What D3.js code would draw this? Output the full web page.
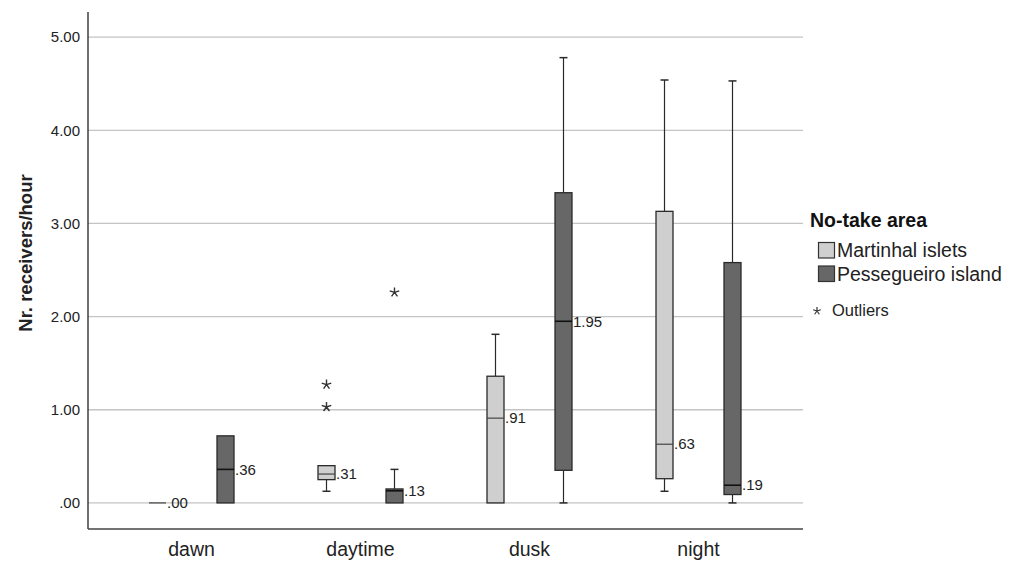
<!DOCTYPE html>
<html>
<head>
<meta charset="utf-8">
<script src="https://cdn.jsdelivr.net/npm/d3@7"></script>
<style>
  body { margin: 0; background: #fff; }
  svg { font-family: "Liberation Sans", Arial, sans-serif; }
</style>
</head>
<body>
<div id="chart"></div>
<script>
const categories = ["dawn", "daytime", "dusk", "night"];
const groups = ["Martinhal islets", "Pessegueiro island"];
const groupColors = ["#cfcfcf", "#676767"];
const yTicks = [0, 1, 2, 3, 4, 5];

// whisker low, q1, median, q3, whisker high
const martinhalStats = [
  [0, 0, 0, 0, 0],
  [0.125, 0.25, 0.31, 0.40, 0.40],
  [0, 0, 0.91, 1.36, 1.81],
  [0.125, 0.26, 0.63, 3.13, 4.54],
];
const pessegueiroStats = [
  [0, 0, 0.36, 0.72, 0.72],
  [0, 0, 0.13, 0.15, 0.36],
  [0, 0.35, 1.95, 3.33, 4.78],
  [0, 0.09, 0.19, 2.58, 4.53],
];
const outlierCats = ["daytime", "daytime", "daytime"];
const outlierGroups = [0, 0, 1];
const outlierValues = [1.27, 1.03, 2.26];

const width = 1019, height = 561;
const svg = d3.select("#chart").append("svg")
  .attr("width", width).attr("height", height);

const x = d3.scaleBand().domain(categories).range([107, 783]);
const xg = d3.scaleOrdinal().domain([0, 1]).range([-34, 34]);
const y = d3.scaleLinear().domain([-0.28, 5.27]).range([529, 12]);
const boxW = 17;

// gridlines
svg.append("g")
  .selectAll("line")
  .data(yTicks)
  .join("line")
  .attr("x1", 88).attr("x2", 803)
  .attr("y1", (d) => y(d)).attr("y2", (d) => y(d))
  .attr("stroke", "#c4c4c4").attr("stroke-width", 1.3);

// y axis
const yAxis = svg.append("g")
  .attr("transform", "translate(88,0)")
  .call(d3.axisLeft(y).tickValues(yTicks).tickSize(0).tickPadding(8)
    .tickFormat((d) => d3.format(".2f")(d).replace(/^0/, "")));
yAxis.select(".domain").remove();
yAxis.selectAll("text").attr("font-size", 15).attr("fill", "#222")
  .attr("font-family", "Liberation Sans, Arial, sans-serif");
svg.append("line").attr("x1", 88).attr("x2", 88).attr("y1", 12).attr("y2", 529)
  .attr("stroke", "#222").attr("stroke-width", 1.3);

// x axis
const xAxis = svg.append("g")
  .attr("transform", "translate(0,529)")
  .call(d3.axisBottom(x).tickSize(0).tickPadding(13));
xAxis.select(".domain").remove();
xAxis.selectAll("text").attr("font-size", 19.5).attr("fill", "#222")
  .attr("font-family", "Liberation Sans, Arial, sans-serif");
svg.append("line").attr("x1", 88).attr("x2", 803).attr("y1", 529).attr("y2", 529)
  .attr("stroke", "#444").attr("stroke-width", 1.3);

// axis title
svg.append("text")
  .attr("transform", "translate(32,253) rotate(-90)")
  .attr("text-anchor", "middle")
  .attr("font-size", 18.5).attr("font-weight", "bold").attr("fill", "#222")
  .text("Nr. receivers/hour");

// boxes
const boxes = [];
[martinhalStats, pessegueiroStats].forEach((stats, gi) => {
  stats.forEach((s, ci) => {
    boxes.push({ cat: categories[ci], g: gi, lo: s[0], q1: s[1], med: s[2], q3: s[3], hi: s[4] });
  });
});
const cx = (d) => x(d.cat) + x.bandwidth() / 2 + xg(d.g);
const fmt = (v) => d3.format(".2f")(v).replace(/^0/, "");

const bg = svg.append("g").selectAll("g").data(boxes).join("g");

bg.each(function (d) {
  const g = d3.select(this);
  const c = cx(d);
  const stroke = "#2a2a2a";
  if (d.hi > d.q3) {
    g.append("line").attr("x1", c).attr("x2", c).attr("y1", y(d.q3)).attr("y2", y(d.hi))
      .attr("stroke", stroke).attr("stroke-width", 1.2);
    g.append("line").attr("x1", c - 4).attr("x2", c + 4).attr("y1", y(d.hi)).attr("y2", y(d.hi))
      .attr("stroke", stroke).attr("stroke-width", 1.5);
  }
  if (d.lo < d.q1) {
    g.append("line").attr("x1", c).attr("x2", c).attr("y1", y(d.q1)).attr("y2", y(d.lo))
      .attr("stroke", stroke).attr("stroke-width", 1.2);
    g.append("line").attr("x1", c - 4).attr("x2", c + 4).attr("y1", y(d.lo)).attr("y2", y(d.lo))
      .attr("stroke", stroke).attr("stroke-width", 1.5);
  }
  if (d.q3 > d.q1) {
    g.append("rect")
      .attr("x", c - boxW / 2).attr("width", boxW)
      .attr("y", y(d.q3)).attr("height", y(d.q1) - y(d.q3))
      .attr("fill", groupColors[d.g]).attr("stroke", stroke).attr("stroke-width", 1.3);
  }
  g.append("line").attr("x1", c - boxW / 2).attr("x2", c + boxW / 2)
    .attr("y1", y(d.med)).attr("y2", y(d.med))
    .attr("stroke", d.g === 0 ? "#444" : "#111").attr("stroke-width", d.g === 0 ? 1.2 : 1.6);
  g.append("text")
    .attr("x", c + boxW / 2 + 1).attr("y", y(d.med)).attr("dy", "0.35em")
    .attr("font-size", 15).attr("fill", "#222")
    .text(fmt(d.med));
});

// outliers
const starPath = (r) => d3.range(5).map((k) => {
  const a = (-90 + 72 * k) * Math.PI / 180;
  return `M0,0L${(r * Math.cos(a)).toFixed(2)},${(r * Math.sin(a)).toFixed(2)}`;
}).join("");

svg.append("g").selectAll("path")
  .data(outlierValues.map((v, i) => ({ cat: outlierCats[i], g: outlierGroups[i], v })))
  .join("path")
  .attr("transform", (d) => `translate(${cx(d)},${y(d.v)})`)
  .attr("d", starPath(5))
  .attr("stroke", "#333").attr("stroke-width", 1.4).attr("fill", "none");

// legend
const legend = svg.append("g");
legend.append("text").attr("x", 810).attr("y", 227)
  .attr("font-size", 19.5).attr("font-weight", "bold").attr("fill", "#111")
  .text("No-take area");
groups.forEach((name, i) => {
  legend.append("rect").attr("x", 818.5).attr("y", 242.5 + i * 23.5)
    .attr("width", 16).attr("height", 15.5)
    .attr("fill", groupColors[i]).attr("stroke", "#333").attr("stroke-width", 1.2);
  legend.append("text").attr("x", 837).attr("y", 257 + i * 23.5)
    .attr("font-size", 19.5).attr("fill", "#222").text(name);
});
legend.append("path").attr("transform", "translate(817,311)")
  .attr("d", starPath(4)).attr("stroke", "#333").attr("stroke-width", 1.2);
legend.append("text").attr("x", 832).attr("y", 316)
  .attr("font-size", 16.5).attr("fill", "#222").text("Outliers");
</script>
</body>
</html>
